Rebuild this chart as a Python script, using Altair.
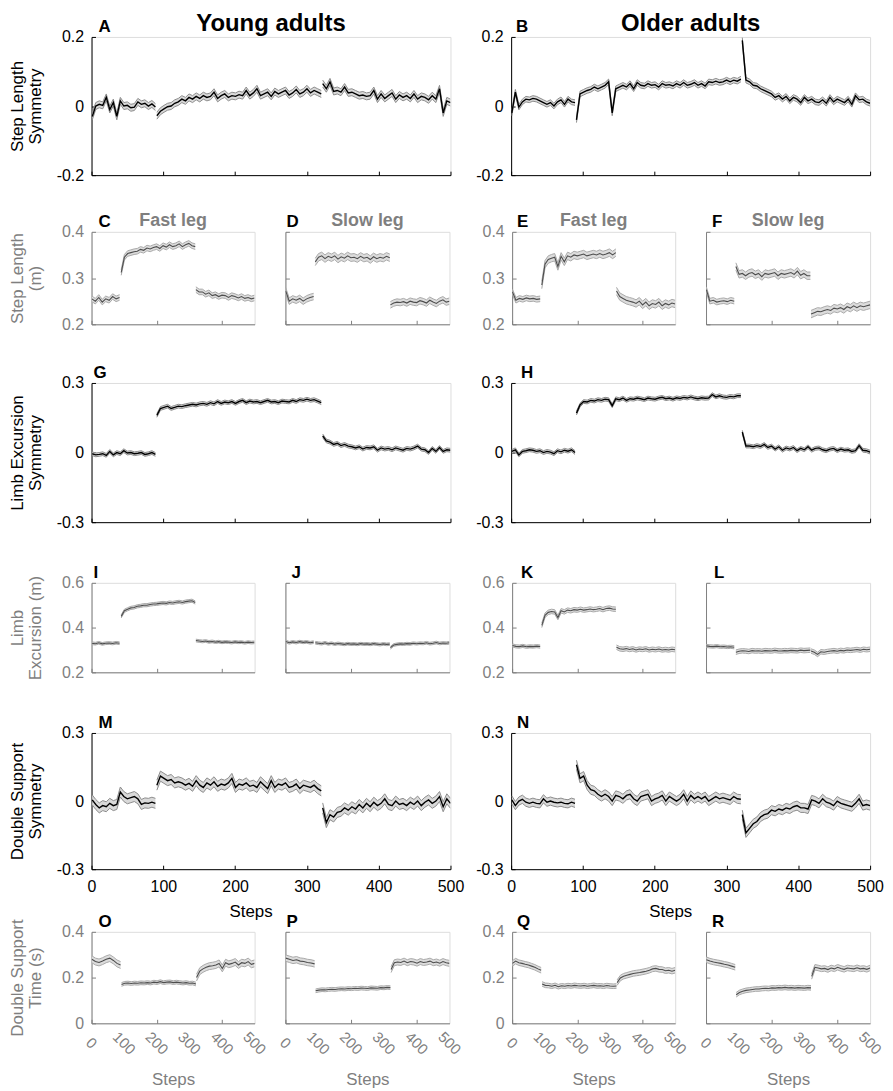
import altair as alt
import numpy as np
import pandas as pd

FONT = "Liberation Sans"
GREY = "#7f7f7f"

# ---------------- segment step ranges (baseline, adaptation, post-adaptation)
SEG_SYM = [(1, 89), (91, 320), (322, 500)]
SEG_LEG = [(1, 86), (91, 318), (320, 500)]
SEG_DS = [(1, 89), (92, 320), (322, 500)]

# ---------------- Step length symmetry
A_base = [-0.03, 0.0, 0.005, 0.002, 0.025, -0.01, 0.01, -0.03, 0.015, 0.0, 0.002, -0.005, -0.003, 0.012, 0.005, 0.008, 0.0, 0.006, -0.003]
A_adapt = [-0.028, -0.015, -0.008, -0.002, 0.0, 0.008, 0.012, 0.02, 0.015, 0.025, 0.02, 0.028, 0.022, 0.03, 0.025, 0.028, 0.04, 0.022, 0.03, 0.035, 0.025, 0.03, 0.028, 0.033, 0.03, 0.045, 0.03, 0.038, 0.05, 0.03, 0.035, 0.04, 0.028, 0.042, 0.035, 0.04, 0.045, 0.032, 0.038, 0.048, 0.035, 0.04, 0.05, 0.038, 0.045, 0.04, 0.035]
A_post = [0.065, 0.05, 0.07, 0.042, 0.045, 0.04, 0.055, 0.038, 0.04, 0.035, 0.03, 0.032, 0.028, 0.03, 0.045, 0.02, 0.035, 0.022, 0.03, 0.038, 0.02, 0.032, 0.025, 0.03, 0.022, 0.035, 0.02, 0.028, 0.025, 0.018, 0.03, 0.02, 0.05, -0.02, 0.015, 0.01]
A_se = [0.01, 0.01, 0.01]

B_base = [-0.02, 0.04, -0.003, 0.012, 0.02, 0.018, 0.022, 0.02, 0.015, 0.01, 0.005, 0.01, 0.0, 0.012, 0.018, 0.005, 0.02, 0.012, 0.01]
B_adapt = [-0.04, 0.035, 0.04, 0.045, 0.048, 0.055, 0.05, 0.055, 0.06, 0.07, -0.02, 0.05, 0.055, 0.06, 0.055, 0.065, 0.05, 0.068, 0.06, 0.058, 0.065, 0.06, 0.062, 0.055, 0.065, 0.06, 0.062, 0.058, 0.065, 0.06, 0.068, 0.06, 0.063, 0.068, 0.06, 0.065, 0.058, 0.07, 0.068, 0.072, 0.068, 0.07, 0.075, 0.07, 0.075, 0.072, 0.078]
B_post = [0.19, 0.075, 0.07, 0.06, 0.058, 0.05, 0.045, 0.04, 0.035, 0.025, 0.03, 0.02, 0.028, 0.015, 0.025, 0.02, 0.01, 0.025, 0.015, 0.02, 0.012, 0.01, 0.018, 0.008, 0.025, 0.012, 0.02, 0.015, 0.01, 0.02, 0.005, 0.03, 0.018, 0.02, 0.012, 0.008]
B_se = [0.008, 0.008, 0.008]

# ---------------- Step length per leg (m)
C_base = [0.255, 0.25, 0.258, 0.248, 0.255, 0.252, 0.26, 0.255, 0.258]
C_adapt = [0.312, 0.345, 0.353, 0.355, 0.357, 0.358, 0.362, 0.36, 0.365, 0.363, 0.366, 0.368, 0.364, 0.37, 0.367, 0.372, 0.368, 0.37, 0.374, 0.368, 0.372, 0.375, 0.37, 0.368]
C_post = [0.275, 0.27, 0.27, 0.265, 0.268, 0.262, 0.264, 0.26, 0.263, 0.262, 0.258, 0.262, 0.26, 0.257, 0.26, 0.256, 0.258, 0.255, 0.257]
C_se = [0.006, 0.006, 0.006]

D_base = [0.272, 0.25, 0.255, 0.252, 0.256, 0.25, 0.255, 0.258, 0.26]
D_adapt = [0.335, 0.345, 0.348, 0.342, 0.347, 0.344, 0.348, 0.341, 0.346, 0.343, 0.348, 0.344, 0.345, 0.342, 0.347, 0.343, 0.345, 0.34, 0.346, 0.342, 0.345, 0.343, 0.347, 0.344]
D_post = [0.242, 0.246, 0.248, 0.247, 0.249, 0.246, 0.25, 0.248, 0.247, 0.251, 0.249, 0.246, 0.252, 0.248, 0.245, 0.25, 0.253, 0.248, 0.25]
D_se = [0.007, 0.008, 0.007]

E_base = [0.27, 0.252, 0.256, 0.254, 0.257, 0.255, 0.256, 0.254, 0.255]
E_adapt = [0.285, 0.33, 0.34, 0.343, 0.345, 0.325, 0.347, 0.335, 0.348, 0.345, 0.35, 0.348, 0.35, 0.352, 0.348, 0.35, 0.352, 0.35, 0.353, 0.35, 0.352, 0.355, 0.35, 0.355]
E_post = [0.272, 0.26, 0.256, 0.252, 0.25, 0.248, 0.245, 0.25, 0.242, 0.248, 0.24, 0.245, 0.243, 0.248, 0.24, 0.245, 0.242, 0.246, 0.244]
E_se = [0.006, 0.008, 0.008]

F_base = [0.275, 0.25, 0.252, 0.248, 0.25, 0.251, 0.249, 0.252, 0.25]
F_adapt = [0.325, 0.308, 0.31, 0.305, 0.31, 0.312, 0.307, 0.31, 0.303, 0.31, 0.308, 0.31, 0.312, 0.305, 0.31, 0.308, 0.31, 0.312, 0.308, 0.315, 0.306, 0.31, 0.305, 0.305]
F_post = [0.222, 0.225, 0.228, 0.227, 0.23, 0.232, 0.23, 0.235, 0.233, 0.236, 0.232, 0.238, 0.235, 0.24, 0.236, 0.24, 0.238, 0.24, 0.242]
F_se = [0.006, 0.008, 0.008]

# ---------------- Limb excursion symmetry
G_base = [-0.005, -0.01, -0.008, -0.005, -0.012, 0.005, -0.01, 0.0, -0.005, 0.008, -0.002, 0.0, -0.005, -0.003, 0.0, -0.008, -0.005, 0.0, -0.008]
G_adapt = [0.16, 0.19, 0.195, 0.2, 0.19, 0.195, 0.2, 0.198, 0.202, 0.205, 0.208, 0.205, 0.21, 0.212, 0.208, 0.215, 0.21, 0.22, 0.212, 0.218, 0.215, 0.22, 0.212, 0.22, 0.225, 0.215, 0.222, 0.218, 0.22, 0.215, 0.22, 0.225, 0.218, 0.22, 0.215, 0.222, 0.22, 0.218, 0.225, 0.22, 0.228, 0.225, 0.23, 0.225, 0.228, 0.222, 0.215]
G_post = [0.072, 0.05, 0.045, 0.035, 0.04, 0.03, 0.035, 0.028, 0.025, 0.02, 0.025, 0.015, 0.022, 0.02, 0.025, 0.01, 0.02, 0.015, 0.018, 0.012, 0.02, 0.015, 0.01, 0.018, 0.015, 0.02, 0.028, 0.015, 0.012, 0.0, 0.018, 0.005, 0.022, 0.005, 0.012, 0.01]
G_se = [0.008, 0.008, 0.008]

H_base = [0.005, 0.012, -0.01, 0.005, 0.008, 0.012, 0.01, 0.005, 0.008, 0.0, 0.005, 0.002, -0.005, 0.008, 0.003, 0.01, 0.006, 0.012, 0.0]
H_adapt = [0.17, 0.205, 0.22, 0.218, 0.225, 0.222, 0.228, 0.225, 0.23, 0.228, 0.202, 0.232, 0.228, 0.235, 0.225, 0.232, 0.23, 0.235, 0.232, 0.228, 0.235, 0.232, 0.23, 0.235, 0.238, 0.232, 0.235, 0.23, 0.236, 0.233, 0.238, 0.235, 0.24, 0.235, 0.232, 0.236, 0.234, 0.235, 0.25, 0.24, 0.245, 0.24, 0.238, 0.242, 0.24, 0.245, 0.245]
H_post = [0.088, 0.028, 0.028, 0.025, 0.03, 0.026, 0.035, 0.022, 0.028, 0.015, 0.025, 0.01, 0.02, 0.015, 0.022, 0.008, 0.018, 0.012, 0.025, 0.01, 0.018, 0.02, 0.012, 0.008, 0.015, 0.018, 0.008, 0.015, 0.01, 0.012, 0.005, 0.008, 0.03, 0.01, 0.008, 0.002]
H_se = [0.008, 0.008, 0.008]

# ---------------- Limb excursion per leg (m)
I_base = [0.33, 0.328, 0.332, 0.327, 0.33, 0.331, 0.329, 0.332, 0.33]
I_adapt = [0.45, 0.475, 0.482, 0.488, 0.49, 0.495, 0.497, 0.5, 0.5, 0.503, 0.505, 0.506, 0.508, 0.51, 0.508, 0.512, 0.51, 0.513, 0.515, 0.512, 0.516, 0.518, 0.52, 0.512]
I_post = [0.342, 0.34, 0.338, 0.34, 0.336, 0.338, 0.335, 0.337, 0.334, 0.336, 0.335, 0.333, 0.336, 0.334, 0.335, 0.332, 0.335, 0.333, 0.334]
I_se = [0.006, 0.007, 0.006]

J_base = [0.338, 0.332, 0.336, 0.333, 0.337, 0.334, 0.336, 0.332, 0.335]
J_adapt = [0.332, 0.33, 0.328, 0.332, 0.327, 0.33, 0.326, 0.329, 0.327, 0.325, 0.328, 0.326, 0.327, 0.325, 0.328, 0.326, 0.327, 0.325, 0.328, 0.326, 0.324, 0.327, 0.325, 0.326]
J_post = [0.31, 0.322, 0.325, 0.327, 0.326, 0.328, 0.327, 0.33, 0.328, 0.33, 0.329, 0.332, 0.328, 0.33, 0.333, 0.329, 0.331, 0.33, 0.332]
J_se = [0.006, 0.006, 0.006]

K_base = [0.32, 0.316, 0.315, 0.318, 0.314, 0.316, 0.315, 0.317, 0.315]
K_adapt = [0.41, 0.455, 0.468, 0.472, 0.47, 0.445, 0.475, 0.47, 0.478, 0.475, 0.48, 0.478, 0.482, 0.478, 0.48, 0.483, 0.48, 0.482, 0.485, 0.48, 0.485, 0.487, 0.483, 0.482]
K_post = [0.312, 0.305, 0.303, 0.306, 0.302, 0.305, 0.3, 0.304, 0.302, 0.305, 0.3, 0.303, 0.301, 0.304, 0.3, 0.302, 0.3, 0.303, 0.301]
K_se = [0.007, 0.01, 0.01]

L_base = [0.318, 0.316, 0.315, 0.317, 0.314, 0.315, 0.313, 0.314, 0.312]
L_adapt = [0.29, 0.294, 0.296, 0.295, 0.293, 0.297, 0.295, 0.296, 0.294, 0.297, 0.296, 0.295, 0.298, 0.296, 0.295, 0.297, 0.296, 0.298, 0.297, 0.296, 0.299, 0.297, 0.298, 0.299]
L_post = [0.295, 0.29, 0.28, 0.292, 0.29, 0.293, 0.295, 0.297, 0.294, 0.298, 0.296, 0.3, 0.298, 0.3, 0.302, 0.299, 0.303, 0.301, 0.303]
L_se = [0.007, 0.01, 0.01]

# ---------------- Double support symmetry
M_base = [0.005, -0.015, -0.03, -0.02, -0.025, -0.01, -0.02, -0.015, 0.04, 0.02, 0.01, 0.015, 0.02, 0.01, -0.015, -0.008, -0.01, -0.005, -0.01]
M_adapt = [0.07, 0.11, 0.1, 0.09, 0.095, 0.08, 0.085, 0.08, 0.07, 0.078, 0.065, 0.09, 0.07, 0.06, 0.08, 0.07, 0.085, 0.065, 0.075, 0.07, 0.08, 0.1, 0.06, 0.075, 0.07, 0.08, 0.065, 0.07, 0.06, 0.085, 0.07, 0.055, 0.09, 0.06, 0.075, 0.07, 0.08, 0.06, 0.065, 0.075, 0.055, 0.07, 0.065, 0.06, 0.07, 0.055, 0.045]
M_post = [-0.03, -0.095, -0.06, -0.07, -0.05, -0.045, -0.03, -0.04, -0.025, -0.035, -0.015, -0.03, -0.01, -0.025, -0.005, -0.02, -0.01, 0.01, -0.015, -0.02, 0.0, -0.015, -0.01, -0.02, -0.005, -0.015, 0.0, -0.02, -0.005, 0.005, -0.01, 0.0, 0.02, -0.025, 0.01, -0.01]
M_se = [0.022, 0.022, 0.022]

N_base = [0.005, -0.02, 0.0, 0.008, -0.005, -0.01, -0.005, -0.01, -0.012, 0.01, -0.005, 0.0, -0.005, -0.008, -0.005, -0.01, -0.012, -0.005, -0.01]
N_adapt = [0.16, 0.1, 0.11, 0.07, 0.05, 0.045, 0.03, 0.02, 0.03, 0.02, 0.0, 0.025, 0.02, 0.01, 0.025, 0.03, 0.01, 0.0, 0.02, 0.025, 0.03, 0.0, 0.01, 0.015, 0.025, 0.0, 0.02, 0.01, 0.0, 0.01, 0.03, 0.0, 0.025, 0.01, 0.02, 0.01, 0.02, 0.0, 0.01, 0.02, 0.01, 0.015, 0.01, 0.005, 0.02, 0.01, 0.008]
N_post = [-0.06, -0.14, -0.12, -0.1, -0.09, -0.07, -0.06, -0.055, -0.04, -0.045, -0.035, -0.04, -0.03, -0.035, -0.025, -0.02, -0.03, -0.03, -0.035, 0.005, 0.0, -0.01, 0.01, -0.005, -0.01, -0.02, 0.0, -0.01, -0.015, -0.02, -0.025, -0.01, 0.01, -0.02, -0.015, -0.02]
N_se = [0.018, 0.02, 0.02]

# ---------------- Double support time (s)
O_base = [0.28, 0.27, 0.266, 0.272, 0.28, 0.285, 0.275, 0.262, 0.255]
O_adapt = [0.17, 0.175, 0.176, 0.174, 0.176, 0.175, 0.177, 0.176, 0.178, 0.176, 0.18, 0.178, 0.182, 0.178, 0.18, 0.181, 0.178, 0.18, 0.178, 0.176, 0.178, 0.175, 0.176, 0.172]
O_post = [0.2, 0.228, 0.238, 0.245, 0.25, 0.252, 0.255, 0.262, 0.24, 0.265, 0.258, 0.262, 0.268, 0.255, 0.265, 0.262, 0.27, 0.258, 0.262]
O_se = [0.015, 0.008, 0.015]

P_base = [0.285, 0.28, 0.275, 0.278, 0.272, 0.27, 0.266, 0.264, 0.26]
P_adapt = [0.142, 0.145, 0.147, 0.146, 0.148, 0.149, 0.148, 0.15, 0.151, 0.15, 0.152, 0.151, 0.153, 0.152, 0.154, 0.153, 0.152, 0.155, 0.154, 0.153, 0.156, 0.155, 0.157, 0.156]
P_post = [0.235, 0.265, 0.268, 0.266, 0.272, 0.265, 0.27, 0.268, 0.263, 0.27, 0.266, 0.268, 0.272, 0.265, 0.268, 0.263, 0.27, 0.265, 0.262]
P_se = [0.014, 0.008, 0.013]

Q_base = [0.262, 0.272, 0.265, 0.262, 0.258, 0.255, 0.25, 0.245, 0.238, 0.232]
Q_adapt = [0.172, 0.166, 0.165, 0.162, 0.166, 0.16, 0.164, 0.162, 0.165, 0.163, 0.166, 0.164, 0.163, 0.165, 0.162, 0.164, 0.166, 0.163, 0.164, 0.162, 0.165, 0.163, 0.162, 0.163]
Q_post = [0.178, 0.198, 0.206, 0.21, 0.214, 0.218, 0.22, 0.222, 0.225, 0.228, 0.232, 0.238, 0.24, 0.236, 0.235, 0.23, 0.232, 0.228, 0.232]
Q_se = [0.012, 0.01, 0.012]

R_base = [0.278, 0.272, 0.268, 0.265, 0.262, 0.258, 0.255, 0.25, 0.245]
R_adapt = [0.125, 0.135, 0.14, 0.144, 0.146, 0.148, 0.15, 0.15, 0.152, 0.153, 0.152, 0.155, 0.154, 0.156, 0.155, 0.157, 0.155, 0.156, 0.154, 0.156, 0.155, 0.154, 0.156, 0.155]
R_post = [0.205, 0.245, 0.242, 0.238, 0.24, 0.235, 0.242, 0.238, 0.245, 0.24, 0.236, 0.242, 0.24, 0.238, 0.243, 0.238, 0.24, 0.236, 0.242]
R_se = [0.012, 0.01, 0.012]

XTICKS = [0, 100, 200, 300, 400, 500]
XTICK_LABELS = ["0", "100", "200", "300", "400", "500"]
LABEL_EXPR = "datum.value == 0 ? '0' : toString(round(datum.value * 10) / 10)"

# letter x-offsets (style)
LETTER_DX = dict(A=7, B=5, C=7, D=1, E=5, F=6, G=2, H=10, I=2, J=6, K=9, L=8,
                 M=7, N=6, O=7, P=1, Q=5, R=6)


def make_df(base, adapt, post, se, segs):
    rows = []
    for k, (vals, (s0, s1), e) in enumerate(zip([base, adapt, post], segs, se)):
        xs = np.linspace(s0, s1, len(vals))
        for x, v in zip(xs, vals):
            rows.append({"step": float(x), "mean": v, "lo": v - e, "hi": v + e, "seg": k})
    return pd.DataFrame(rows)


TICK_DF = pd.DataFrame({"v": XTICKS, "lab": XTICK_LABELS})


def panel(df, letter, ydom, yvals, w, h, grey=False, ylabels=True, ytitle=None,
          xlabels=False, xtitle=None, rotate=False, head=None, head_size=18, head_dy=-6):
    ac = GREY if grey else "#000000"
    mean_col = "#4d4d4d" if grey else "#000000"
    edge_col = "#a9a9a9" if grey else "#8c8c8c"
    fill_col = "#dcdcdc" if grey else "#d9d9d9"
    xs = alt.Scale(domain=[0, 500], nice=False, zero=False)
    ys = alt.Scale(domain=ydom, nice=False, zero=False)

    xax = dict(values=XTICKS, labels=(xlabels and not rotate), grid=False, domainColor=ac, tickColor=ac,
               tickSize={"expr": "-4"}, domainWidth=1, tickWidth=1, labelColor=ac,
               labelFont=FONT, labelFontSize=16, labelFlush=False, labelOverlap=False,
               titleColor=ac, titleFont=FONT, titleFontSize=17, titleFontWeight="normal")
    if xlabels and not rotate:
        xax.update(labelAngle=0, labelPadding=13)
    if xtitle:
        if rotate:
            xax.update(title=xtitle, titleX=w / 2, titleY=49, titleBaseline="top", titleAlign="center")
        else:
            xax.update(title=xtitle, titleX=160, titleY=35, titleBaseline="top", titleAlign="center")
    else:
        xax["title"] = None

    yax = dict(values=yvals, labels=ylabels, grid=False, domainColor=ac, tickColor=ac,
               tickSize={"expr": "-4"}, domainWidth=1, tickWidth=1, labelColor=ac,
               labelFont=FONT, labelFontSize=16, labelPadding=12, labelExpr=LABEL_EXPR,
               labelFlush=False, labelOverlap=False)
    if ytitle:
        yax.update(title=ytitle, titleX=-65, titleY=h / 2, titleBaseline="bottom",
                   titleAlign="center", titleColor=ac, titleFont=FONT, titleFontSize=17,
                   titleFontWeight="normal", titleLineHeight=18)
    else:
        yax["title"] = None

    base = alt.Chart(df)
    band = base.mark_area(color=fill_col, opacity=1, clip=True).encode(
        x=alt.X("step:Q", scale=xs, axis=alt.Axis(**xax)),
        y=alt.Y("lo:Q", scale=ys, axis=alt.Axis(**yax)),
        y2="hi:Q",
        detail="seg:N",
    )
    lo = base.mark_line(color=edge_col, strokeWidth=1, clip=True).encode(
        x="step:Q", y="lo:Q", detail="seg:N")
    hi = base.mark_line(color=edge_col, strokeWidth=1, clip=True).encode(
        x="step:Q", y="hi:Q", detail="seg:N")
    mean = base.mark_line(color=mean_col, strokeWidth=1.4 if not grey else 1.1, clip=True).encode(
        x="step:Q", y="mean:Q", detail="seg:N")

    one = pd.DataFrame({"k": [0]})
    let = alt.Chart(one).mark_text(
        align="left", baseline="alphabetic", dx=LETTER_DX[letter], dy=-5,
        font=FONT, fontSize=17, fontWeight="bold", color="#000000",
    ).encode(x=alt.datum(0), y=alt.datum(ydom[1]), text=alt.value(letter))
    layers = [band, lo, hi, mean, let]
    if head:
        hd = alt.Chart(one).mark_text(
            align="center", baseline="alphabetic", dy=head_dy,
            font=FONT, fontSize=head_size, fontWeight="bold", color=ac if grey else "#000000",
        ).encode(x=alt.datum(250), y=alt.datum(ydom[1]), text=alt.value(head))
        layers.append(hd)
    if xlabels and rotate:
        rl = alt.Chart(TICK_DF).mark_text(
            angle=45, align="center", baseline="middle", yOffset=20,
            font=FONT, fontSize=15, color=ac,
        ).encode(x="v:Q", y=alt.datum(ydom[0]), text="lab:N")
        layers.append(rl)
    return alt.layer(*layers).properties(width=w, height=h)


def spacer(h):
    return alt.Chart(pd.DataFrame({"k": [0]})).mark_text(text="").encode(
        x=alt.value(0), y=alt.value(0)).properties(
        width=1, height=h, view=alt.ViewBackground(strokeWidth=0, stroke="transparent"))


WF = 361   # full-width panel
WL = 164   # leg panel
WL2 = 165

dA = make_df(A_base, A_adapt, A_post, A_se, SEG_SYM)
dB = make_df(B_base, B_adapt, B_post, B_se, SEG_SYM)
dC = make_df(C_base, C_adapt, C_post, C_se, SEG_LEG)
dD = make_df(D_base, D_adapt, D_post, D_se, SEG_LEG)
dE = make_df(E_base, E_adapt, E_post, E_se, SEG_LEG)
dF = make_df(F_base, F_adapt, F_post, F_se, SEG_LEG)
dG = make_df(G_base, G_adapt, G_post, G_se, SEG_SYM)
dH = make_df(H_base, H_adapt, H_post, H_se, SEG_SYM)
dI = make_df(I_base, I_adapt, I_post, I_se, SEG_LEG)
dJ = make_df(J_base, J_adapt, J_post, J_se, SEG_LEG)
dK = make_df(K_base, K_adapt, K_post, K_se, SEG_LEG)
dL = make_df(L_base, L_adapt, L_post, L_se, SEG_LEG)
dM = make_df(M_base, M_adapt, M_post, M_se, SEG_SYM)
dN = make_df(N_base, N_adapt, N_post, N_se, SEG_SYM)
dO = make_df(O_base, O_adapt, O_post, O_se, SEG_DS)
dP = make_df(P_base, P_adapt, P_post, P_se, SEG_DS)
dQ = make_df(Q_base, Q_adapt, Q_post, Q_se, SEG_DS)
dR = make_df(R_base, R_adapt, R_post, R_se, SEG_DS)

SYM2 = [-0.2, 0.2]
SYM3 = [-0.3, 0.3]

pA = panel(dA, "A", SYM2, [-0.2, 0, 0.2], WF, 139, ytitle=["Step Length", "Symmetry"],
           head="Young adults", head_size=24, head_dy=-6)
pB = panel(dB, "B", SYM2, [-0.2, 0, 0.2], WF, 139, head="Older adults", head_size=24, head_dy=-6)

pC = panel(dC, "C", [0.2, 0.4], [0.2, 0.3, 0.4], WL, 93, grey=True, ytitle=["Step Length", "(m)"], head="Fast leg")
pD = panel(dD, "D", [0.2, 0.4], [0.2, 0.3, 0.4], WL2, 93, grey=True, ylabels=False, head="Slow leg")
pE = panel(dE, "E", [0.2, 0.4], [0.2, 0.3, 0.4], WL, 93, grey=True, head="Fast leg")
pF = panel(dF, "F", [0.2, 0.4], [0.2, 0.3, 0.4], WL2, 93, grey=True, ylabels=False, head="Slow leg")

pG = panel(dG, "G", SYM3, [-0.3, 0, 0.3], WF, 140, ytitle=["Limb Excursion", "Symmetry"])
pH = panel(dH, "H", SYM3, [-0.3, 0, 0.3], WF, 140)

pI = panel(dI, "I", [0.2, 0.6], [0.2, 0.4, 0.6], WL, 90, grey=True, ytitle=["Limb", "Excursion (m)"])
pJ = panel(dJ, "J", [0.2, 0.6], [0.2, 0.4, 0.6], WL2, 90, grey=True, ylabels=False)
pK = panel(dK, "K", [0.2, 0.6], [0.2, 0.4, 0.6], WL, 90, grey=True)
pL = panel(dL, "L", [0.2, 0.6], [0.2, 0.4, 0.6], WL2, 90, grey=True, ylabels=False)

pM = panel(dM, "M", SYM3, [-0.3, 0, 0.3], WF, 137, ytitle=["Double Support", "Symmetry"],
           xlabels=True, xtitle="Steps")
pN = panel(dN, "N", SYM3, [-0.3, 0, 0.3], WF, 137, xlabels=True, xtitle="Steps")

pO = panel(dO, "O", [0, 0.4], [0, 0.2, 0.4], WL, 92, grey=True, ytitle=["Double Support", "Time (s)"],
           xlabels=True, xtitle="Steps", rotate=True)
pP = panel(dP, "P", [0, 0.4], [0, 0.2, 0.4], WL2, 92, grey=True, ylabels=False,
           xlabels=True, xtitle="Steps", rotate=True)
pQ = panel(dQ, "Q", [0, 0.4], [0, 0.2, 0.4], WL, 92, grey=True,
           xlabels=True, xtitle="Steps", rotate=True)
pR = panel(dR, "R", [0, 0.4], [0, 0.2, 0.4], WL2, 92, grey=True, ylabels=False,
           xlabels=True, xtitle="Steps", rotate=True)


def full_row(a, b):
    return alt.hconcat(a, b, spacing=61, bounds="flush")


def leg_row(a, b, c, d, h):
    # a 1px spacer doubles the gap between the two halves
    return alt.hconcat(a, b, spacer(h), c, d, spacing=31, bounds="flush")


r1 = full_row(pA, pB)
r2 = leg_row(pC, pD, pE, pF, 93)
r3 = full_row(pG, pH)
r4 = leg_row(pI, pJ, pK, pL, 90)
r5 = full_row(pM, pN)
r6 = leg_row(pO, pP, pQ, pR, 92)

S12, S23, S34, S45, S56 = 27, 30, 32, 32, -9

stack = alt.vconcat(r5, r6, spacing=S56)
stack = alt.vconcat(r4, stack, spacing=S45)
stack = alt.vconcat(r3, stack, spacing=S34)
stack = alt.vconcat(r2, stack, spacing=S23)
chart = alt.vconcat(r1, stack, spacing=S12).properties(
    padding={"left": 0, "top": 0, "right": 0, "bottom": 2}
).configure_view(strokeWidth=0, stroke="transparent").configure(font=FONT)

chart.save("out.html", embed_options={"renderer": "svg", "actions": False})
